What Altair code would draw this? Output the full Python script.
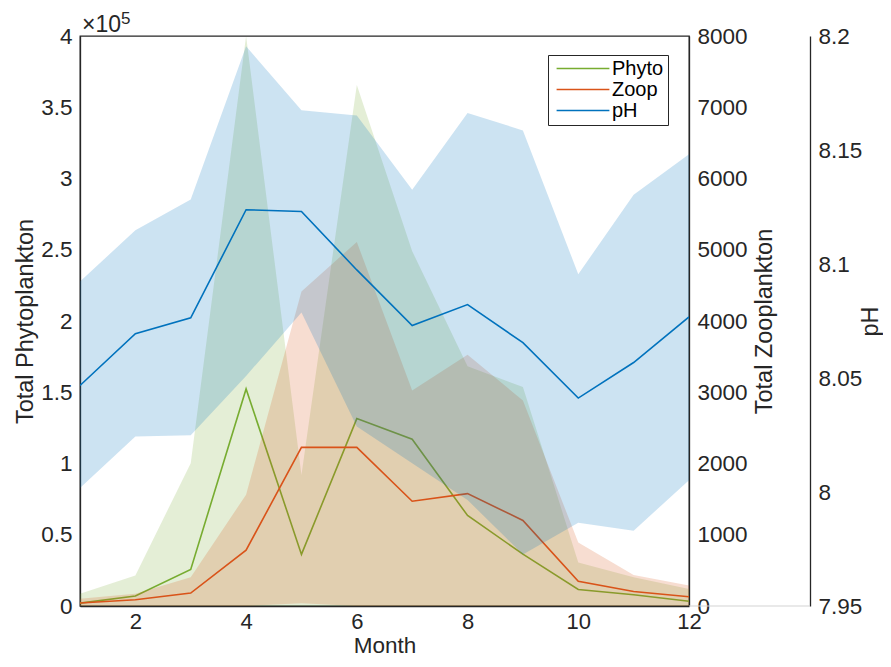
import altair as alt
import pandas as pd

months = [1, 2, 3, 4, 5, 6, 7, 8, 9, 10, 11, 12]
phyto_mean = [2000, 7000, 25700, 152300, 36200, 131500, 117000, 63500, 36400, 11600, 7900, 3300]
phyto_upper = [8600, 21400, 100200, 400000, 92000, 365700, 249000, 168300, 153700, 30600, 20200, 12000]
phyto_lower = [0, 0, 0, 0, 0, 0, 0, 0, 0, 0, 0, 0]
zoop_mean = [42, 88, 181, 783, 2226, 2226, 1470, 1577, 1201, 348, 204, 130]
zoop_upper = [102, 171, 403, 1562, 4415, 5110, 3023, 3527, 2884, 890, 436, 288]
zoop_lower = [0, 0, 0, 0, 40, 0, 0, 0, 0, 0, 0, 0]
ph_mean = [8.0467, 8.0694, 8.0764, 8.1238, 8.1230, 8.0974, 8.0730, 8.0822, 8.0655, 8.0412, 8.0568, 8.0768]
ph_upper = [8.0923, 8.1148, 8.1283, 8.1955, 8.1674, 8.1651, 8.1326, 8.1662, 8.1586, 8.0955, 8.1304, 8.1481]
ph_lower = [8.0017, 8.0243, 8.0249, 8.0509, 8.0787, 8.0287, 8.0126, 7.9965, 7.9726, 7.9865, 7.9830, 8.0052]

series_names = ["Phyto", "Zoop", "pH"]
x_ticks = [2, 4, 6, 8, 10, 12]
phyto_ticks = [0, 50000, 100000, 150000, 200000, 250000, 300000, 350000, 400000]
zoop_ticks = [0, 1000, 2000, 3000, 4000, 5000, 6000, 7000, 8000]
ph_ticks = [7.95, 8.0, 8.05, 8.1, 8.15, 8.2]
exponent_base = "×10"
exponent_power = "5"

df = pd.DataFrame({
    "month": months,
    "phyto": phyto_mean, "phyto_hi": phyto_upper, "phyto_lo": phyto_lower,
    "zoop": zoop_mean, "zoop_hi": zoop_upper, "zoop_lo": zoop_lower,
    "ph": ph_mean, "ph_hi": ph_upper, "ph_lo": ph_lower,
})

FONT = "Liberation Sans"
TXT = "#262626"
GREEN = "#77AC30"
ORANGE = "#D95319"
BLUE = "#0072BD"

PLOT_W = 609
PLOT_H = 570

x_enc = alt.X("month:Q", scale=alt.Scale(domain=[1, 12], nice=False, zero=False),
              axis=alt.Axis(values=x_ticks, title="Month", labelFlush=False, ticks=False,
                            tickSize=0, labelPadding=5, labelFontSize=22,
                            titlePadding=2.5, titleFontSize=22.5))

phy_scale = alt.Scale(domain=[0, 400000], nice=False, zero=False)
zoo_scale = alt.Scale(domain=[0, 8000], nice=False, zero=False)
ph_scale = alt.Scale(domain=[7.95, 8.2], nice=False, zero=False)

color_scale = alt.Scale(domain=series_names, range=[GREEN, ORANGE, BLUE])
legend = alt.Legend(title=None, orient="none", legendX=468, legendY=19,
                    symbolType="M-3.3,0L3.3,0", symbolSize=256, symbolStrokeWidth=1.6,
                    symbolOffset=21, clipHeight=19,
                    labelFont=FONT, labelFontSize=20, labelColor="black",
                    strokeColor=TXT, fillColor="white", padding=4, rowPadding=0,
                    labelOffset=19)

phy_axis = alt.Axis(orient="left", values=phyto_ticks, title="Total Phytoplankton",
                    labelExpr="format(datum.value / 100000, '~g')",
                    labelFlush=False, ticks=False, labelPadding=8, titlePadding=3)
zoo_axis = alt.Axis(orient="right", values=zoop_ticks, title="Total Zooplankton", format="d",
                    labelFlush=False, ticks=False, labelPadding=8, titlePadding=5,
                    titleAngle=270, titleBaseline="top")
ph_axis = alt.Axis(orient="right", offset=121, values=ph_ticks, title="pH",
                   labelExpr="format(datum.value, '~g')",
                   labelFlush=False, ticks=False, labelPadding=8, titlePadding=-3,
                   titleAngle=270, titleBaseline="top")

base = alt.Chart(df)

band_phyto = base.mark_area(color=GREEN, opacity=0.2, clip=True).encode(
    x=x_enc, y=alt.Y("phyto_lo:Q", scale=phy_scale, axis=None), y2="phyto_hi:Q")
line_phyto = base.transform_calculate(series="'Phyto'").mark_line(strokeWidth=1.6, clip=True).encode(
    x=x_enc, y=alt.Y("phyto:Q", scale=phy_scale, axis=phy_axis),
    color=alt.Color("series:N", scale=color_scale, legend=legend))

band_zoop = base.mark_area(color=ORANGE, opacity=0.2, clip=True).encode(
    x=x_enc, y=alt.Y("zoop_lo:Q", scale=zoo_scale, axis=None), y2="zoop_hi:Q")
line_zoop = base.transform_calculate(series="'Zoop'").mark_line(strokeWidth=1.6, clip=True).encode(
    x=x_enc, y=alt.Y("zoop:Q", scale=zoo_scale, axis=zoo_axis),
    color=alt.Color("series:N", scale=color_scale, legend=legend))

band_ph = base.mark_area(color=BLUE, opacity=0.2, clip=True).encode(
    x=x_enc, y=alt.Y("ph_lo:Q", scale=ph_scale, axis=None), y2="ph_hi:Q")
line_ph = base.transform_calculate(series="'pH'").mark_line(strokeWidth=1.6, clip=True).encode(
    x=x_enc, y=alt.Y("ph:Q", scale=ph_scale, axis=ph_axis),
    color=alt.Color("series:N", scale=color_scale, legend=legend))

one = pd.DataFrame({"k": [0]})
ph_base_rule = alt.Chart(one).mark_rule(color="#d4d4d4", strokeWidth=1.2).encode(
    x=alt.value(PLOT_W), x2=alt.value(PLOT_W + 121), y=alt.value(PLOT_H))
exp_base = alt.Chart(one).mark_text(text=exponent_base, font=FONT, fontSize=23, color=TXT,
                                    align="left", baseline="alphabetic").encode(
    x=alt.value(2), y=alt.value(-4))
exp_power = alt.Chart(one).mark_text(text=exponent_power, font=FONT, fontSize=17, color=TXT,
                                     align="left", baseline="alphabetic").encode(
    x=alt.value(41), y=alt.value(-12))

chart = alt.layer(
    band_phyto, line_phyto, band_zoop, line_zoop, band_ph, line_ph,
    ph_base_rule, exp_base, exp_power
).resolve_scale(
    y="independent"
).properties(
    width=PLOT_W, height=PLOT_H,
    autosize=alt.AutoSizeParams(type="none"),
    padding={"left": 72, "top": 28, "right": 194, "bottom": 53},
).configure_view(
    stroke=TXT, strokeWidth=1.3
).configure_axis(
    labelFont=FONT, titleFont=FONT, labelFontSize=22.5, titleFontSize=23.5,
    titleFontWeight="normal", labelColor=TXT, titleColor=TXT,
    domainColor=TXT, domainWidth=1.3, grid=False
)

chart.save("out.html", embed_options={"renderer": "svg", "actions": False})
